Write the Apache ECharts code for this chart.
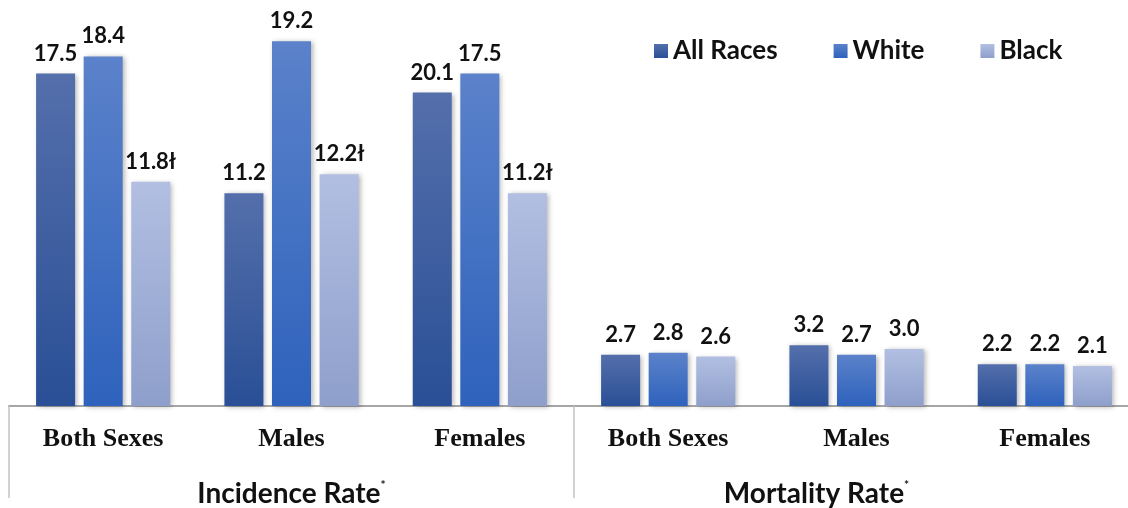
<!DOCTYPE html>
<html>
<head>
<meta charset="utf-8">
<script src="https://cdn.jsdelivr.net/npm/echarts@6/dist/echarts.min.js"></script>
<style>
  html, body { margin: 0; padding: 0; background: #fff; overflow: hidden; }
  #main { width: 1140px; height: 508px; }
</style>
</head>
<body>
<div id="main"></div>
<script>
// categories
var subGroups = ['Both Sexes', 'Males', 'Females', 'Both Sexes', 'Males', 'Females'];
var rateGroups = ['Incidence Rate', 'Mortality Rate'];

// bar heights as drawn
var allRaces = [17.5, 11.2, 16.5, 2.7, 3.2, 2.2];
var white = [18.4, 19.2, 17.5, 2.8, 2.7, 2.2];
var black = [11.8, 12.2, 11.2, 2.6, 3.0, 2.1];

// label texts as printed
var allRacesLabels = ['17.5', '11.2', '20.1', '2.7', '3.2', '2.2'];
var whiteLabels = ['18.4', '19.2', '17.5', '2.8', '2.7', '2.2'];
var blackLabels = ['11.8ł', '12.2ł', '11.2ł', '2.6', '3.0', '2.1'];

function grad(top, bottom) {
  return new echarts.graphic.LinearGradient(0, 0, 0, 1, [
    { offset: 0, color: top },
    { offset: 1, color: bottom }
  ]);
}

var labelStyle = {
  show: true,
  position: 'top',
  distance: 9,
  fontFamily: 'Lato',
  fontWeight: 'bold',
  fontSize: 22,
  color: '#111'
};

function mkSeries(name, data, texts, top, bottom) {
  return {
    name: name,
    type: 'bar',
    data: data,
    barWidth: 39,
    barGap: '22%',
    itemStyle: {
      color: grad(top, bottom),
      shadowBlur: 5,
      shadowOffsetX: 2,
      shadowOffsetY: 1,
      shadowColor: 'rgba(0,0,0,0.3)'
    },
    label: Object.assign({}, labelStyle, {
      formatter: function (p) { return texts[p.dataIndex]; }
    })
  };
}

var chart = echarts.init(document.getElementById('main'));

var option = {
  animation: false,
  legend: {
    left: 649,
    top: 33,
    itemWidth: 14,
    itemHeight: 14,
    itemGap: 56,
    icon: 'rect',
    textStyle: { fontFamily: 'Lato', fontWeight: 'bold', fontSize: 26, color: '#111' },
    data: ['All Races', 'White', 'Black']
  },
  grid: { left: 9, top: 26, width: 1130, bottom: 100 },
  xAxis: [
    {
      type: 'category',
      data: subGroups,
      position: 'bottom',
      axisLine: { lineStyle: { color: '#a6a6a6', width: 2 } },
      axisTick: { show: false },
      axisLabel: {
        margin: 20,
        fontFamily: 'Liberation Serif',
        fontWeight: 'bold',
        fontSize: 26,
        color: '#111'
      }
    },
    {
      type: 'category',
      data: rateGroups,
      position: 'bottom',
      axisLine: { show: false },
      axisTick: { show: true, length: 92, lineStyle: { color: '#c4c4c4', width: 1.5 } },
      axisLabel: {
        margin: 73,
        formatter: function (v, i) {
          return i === 0 ? '{a|' + v + '}{s|*}' : '{a|' + v + '}{s2|*}';
        },
        rich: {
          a: { fontFamily: 'Lato', fontWeight: 'bold', fontSize: 28, color: '#111' },
          s: { fontFamily: 'Lato', fontWeight: 'bold', fontSize: 12, color: '#111', padding: [0, 0, 18, 0] },
          s2: { fontFamily: 'Lato', fontWeight: 'bold', fontSize: 12, color: '#111', padding: [0, 80, 18, 0] }
        }
      }
    }
  ],
  yAxis: {
    type: 'value',
    min: 0,
    max: 20,
    show: false,
    splitLine: { show: false }
  },
  series: [
    mkSeries('All Races', allRaces, allRacesLabels, '#546fab', '#2a4f96'),
    mkSeries('White', white, whiteLabels, '#5b82ca', '#2e62bc'),
    mkSeries('Black', black, blackLabels, '#b2bfe2', '#8e9fcb')
  ]
};

chart.setOption(option);
</script>
</body>
</html>
